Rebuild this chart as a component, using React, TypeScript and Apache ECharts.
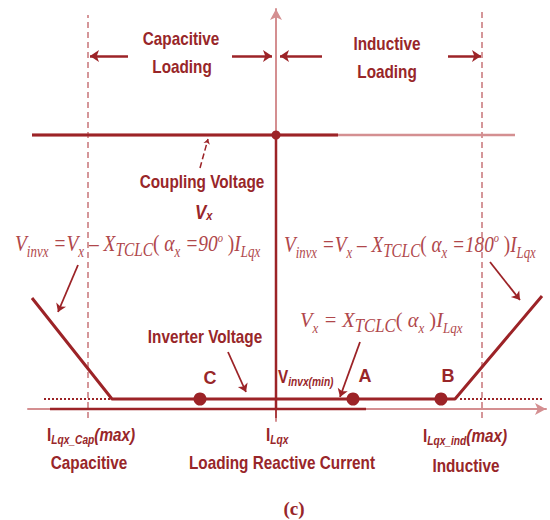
import React, { useEffect, useRef } from "react";
import * as echarts from "echarts";

// Loading reactive current on x (0 = I_Lqx), voltage on y.
const capacitiveMax = -4.7;
const inductiveMax = 5.15;
const couplingVoltage = 68.5;
const inverterMin = 2.5;

const currentAxisDark = [[-5.65, 0], [2.25, 0]];
const currentAxisLight = [[2.25, 0], [6.6, 0]];
const voltageAxisDark = [[0, 0], [0, couplingVoltage]];
const centreTick = [[0, 0], [0, -2.25]];

const couplingLine = [[-6.1, couplingVoltage], [5.975, couplingVoltage]];
const couplingLineDark = [[-6.1, couplingVoltage], [1.55, couplingVoltage]];

const inverterProfile = [
  [-6.1, 27.75],
  [-4.1, inverterMin],
  [4.475, inverterMin],
  [6.65, 28.25],
];
const inverterDottedLeft = [[-5.8, inverterMin], [-4.1, inverterMin]];
const inverterDottedRight = [[4.6, inverterMin], [6.7, inverterMin]];

const limitLines = [
  [[capacitiveMax, -2.25], [capacitiveMax, 98.5]],
  [[inductiveMax, -2.25], [inductiveMax, 99.5]],
];

const regionArrows = [
  [[-3.7, 88.25], [-4.65, 88.25]],
  [[-1.1, 88.25], [-0.1, 88.25]],
  [[1.15, 88.25], [0.1, 88.25]],
  [[4.3, 88.25], [5.125, 88.25]],
];

const pointerArrows = [
  [[-4.95, 36], [-5.45, 24.25]],
  [[5.35, 36.75], [6.1, 27.25]],
  [[-1.2, 14.25], [-0.75, 4.25]],
  [[2.1, 16.75], [1.6, 3]],
];
const couplingPointer = [[-1.9, 60.25], [-1.7, 67.5]];

const operatingPoints = [
  { name: "C", value: [-1.9, inverterMin], offset: [10, -1] },
  { name: "A", value: [1.925, inverterMin], offset: [12, -3] },
  { name: "B", value: [4.125, inverterMin], offset: [7, -3] },
];

const DARK = "#9c2327";
const LIGHT = "#d48f91";
const MID = "#c87478";
const TEXT = "#982629";
const FORMULA = "#b0474b";

const SANS = '"Liberation Sans", Arial, sans-serif';
const SERIF = '"Liberation Serif", "DejaVu Serif", serif';
const NARROW = 0.85;

function segment(coords: number[][], color: string, width: number, extra: any = {}, z = 4) {
  return {
    type: "line",
    data: coords,
    symbol: "none",
    silent: true,
    clip: false,
    lineStyle: { color, width, ...extra },
    z,
  };
}

function arrows(list: number[][][], color: string, width: number, size: number, type = "solid") {
  return {
    type: "lines",
    coordinateSystem: "cartesian2d",
    symbol: ["none", "arrow"],
    symbolSize: size,
    silent: true,
    clip: false,
    lineStyle: { color, width, type, opacity: 1 },
    data: list.map((c) => ({ coords: c })),
    z: 3,
  };
}

const formulaRich = (main: number, sub: number, tclc: number, sup: number) => ({
  i: { fontFamily: SERIF, fontStyle: "italic", fontSize: main, lineHeight: main + 4, verticalAlign: "top", fill: FORMULA, color: FORMULA },
  r: { fontFamily: SERIF, fontSize: main, lineHeight: main + 4, verticalAlign: "top", fill: FORMULA, color: FORMULA },
  s: { fontFamily: SERIF, fontStyle: "italic", fontSize: sub, lineHeight: sub - 3, verticalAlign: "bottom", fill: FORMULA, color: FORMULA },
  t: { fontFamily: SERIF, fontStyle: "italic", fontSize: tclc, lineHeight: tclc - 4, verticalAlign: "bottom", fill: FORMULA, color: FORMULA },
  u: { fontFamily: SERIF, fontStyle: "italic", fontSize: sup, lineHeight: sup - 2, verticalAlign: "top", fill: FORMULA, color: FORMULA },
});

const sansRich = {
  b: { fontFamily: SANS, fontWeight: "bold", fontSize: 18, lineHeight: 20, verticalAlign: "top", fill: TEXT, color: TEXT },
  bi: { fontFamily: SANS, fontWeight: "bold", fontStyle: "italic", fontSize: 18, lineHeight: 20, verticalAlign: "top", fill: TEXT, color: TEXT },
  s: { fontFamily: SANS, fontWeight: "bold", fontStyle: "italic", fontSize: 12, lineHeight: 9, verticalAlign: "bottom", fill: TEXT, color: TEXT },
};

function plain(text: string, x: number, y: number, align = "center", size = 18) {
  return {
    type: "text",
    x,
    y,
    scaleX: NARROW,
    silent: true,
    style: {
      text,
      fill: TEXT,
      font: `bold ${size}px ${SANS}`,
      align,
      verticalAlign: "middle",
      textAlign: align,
      textVerticalAlign: "middle",
    },
  };
}

function rich(text: string, x: number, y: number, richStyles: any, scaleX = NARROW, align = "left") {
  return {
    type: "text",
    x,
    y,
    scaleX,
    silent: true,
    style: {
      text,
      rich: richStyles,
      fill: TEXT,
      align,
      verticalAlign: "middle",
      textAlign: align,
      textVerticalAlign: "middle",
    },
  };
}

const hiddenAxis = {
  type: "value",
  axisTick: { show: false },
  axisLabel: { show: false },
  splitLine: { show: false },
};

const arrowAxisLine = {
  show: true,
  onZero: true,
  symbol: ["none", "arrow"],
  symbolSize: [9, 11],
  lineStyle: { color: LIGHT, width: 2 },
};

export default function App() {
  const ref = useRef<HTMLDivElement>(null);

  useEffect(() => {
    if (!ref.current) return;
    const chart = echarts.init(ref.current, undefined, { renderer: "svg" });

    const leftFormula =
      "{i|V}{s|invx}{i| =V}{s|x}{i| – X}{t|TCLC}{r|(}{i| α}{s|x}{i| =90}{u|o}{r| )}{i|I}{s|Lqx}";
    const rightFormula =
      "{i|V}{s|invx}{i| =V}{s|x}{i| – X}{t|TCLC}{r|(}{i| α}{s|x}{i| =180}{u|o}{r| )}{i|I}{s|Lqx}";
    const minFormula = "{i|V}{s|x}{i| = X}{t|TCLC}{r|(}{i| α}{s|x}{r| )}{i|I}{s|Lqx}";

    chart.setOption({
      animation: false,
      grid: { left: 28, right: 4, top: 9, bottom: 99 },
      xAxis: { ...hiddenAxis, min: -6.2, max: 6.75, axisLine: arrowAxisLine },
      yAxis: { ...hiddenAxis, min: -3, max: 100, axisLine: arrowAxisLine },
      series: [
        // current axis: dark stretch and pale stretch
        segment(currentAxisDark, DARK, 2.5, {}, 10),
        segment(currentAxisLight, LIGHT, 2, {}, 10),
        segment(voltageAxisDark, DARK, 2.5),
        segment(centreTick, DARK, 1.5),
        // operating limits
        ...limitLines.map((l) => segment(l, MID, 1.5, { type: [6, 4] }, 1)),
        // coupling voltage
        segment(couplingLine, LIGHT, 2.5, {}, 2),
        segment(couplingLineDark, DARK, 3),
        // inverter voltage
        segment(inverterProfile, DARK, 3),
        segment(inverterDottedLeft, DARK, 2, { type: [2, 2] }),
        segment(inverterDottedRight, DARK, 2, { type: [2, 2] }),
        // annotation arrows
        arrows(regionArrows, DARK, 2.5, 9),
        arrows(pointerArrows, DARK, 1.8, 8),
        arrows([couplingPointer], DARK, 1.5, 5, "dashed"),
        {
          type: "scatter",
          data: [[0, couplingVoltage]],
          symbolSize: 9,
          itemStyle: { color: DARK, opacity: 1 },
          silent: true,
          z: 5,
        },
        {
          type: "scatter",
          data: operatingPoints.map((p) => ({
            name: p.name,
            value: p.value,
            label: { offset: p.offset },
          })),
          symbolSize: 13,
          itemStyle: { color: DARK, opacity: 1 },
          silent: true,
          z: 11,
          label: {
            show: true,
            position: "top",
            formatter: "{b}",
            color: TEXT,
            fontFamily: SANS,
            fontWeight: "bold",
            fontSize: 18,
          },
        },
      ],
      graphic: [
        plain("Capacitive", 181, 39),
        plain("Loading", 182, 67),
        plain("Inductive", 387, 44),
        plain("Loading", 387, 72),
        plain("Coupling Voltage", 202, 182),
        rich("{bi|V}{s|x}", 195, 212, {
          bi: { ...sansRich.bi, fontSize: 20 },
          s: { ...sansRich.s, fontSize: 13 },
        }),
        rich(leftFormula, 15, 245, formulaRich(24, 16, 19, 13), 0.81),
        rich(rightFormula, 284, 246, formulaRich(24, 16, 19, 13), 0.8),
        plain("Inverter Voltage", 205, 337),
        rich(minFormula, 300, 322, formulaRich(22, 14, 18, 12), 0.93),
        rich("{b|V}{s|invx(min)}", 278, 378, sansRich),
        rich("{b|I}{s|Lqx_Cap}{bi|(max)}", 47, 436, sansRich),
        plain("Capacitive", 89, 463),
        rich("{b|I}{s|Lqx}", 266, 436, sansRich),
        plain("Loading Reactive Current", 282, 463),
        rich("{b|I}{s|Lqx_ind}{bi|(max)}", 423, 437, sansRich),
        plain("Inductive", 466, 466),
        {
          type: "text",
          x: 294,
          y: 508,
          silent: true,
          style: {
            text: "(c)",
            fill: TEXT,
            font: `bold 19px ${SERIF}`,
            align: "center",
            verticalAlign: "middle",
            textAlign: "center",
            textVerticalAlign: "middle",
          },
        },
      ],
    });

    return () => chart.dispose();
  }, []);

  return (
    <div
      ref={ref}
      style={{ position: "fixed", left: 0, top: 0, width: 550, height: 520, background: "#fff" }}
    />
  );
}
